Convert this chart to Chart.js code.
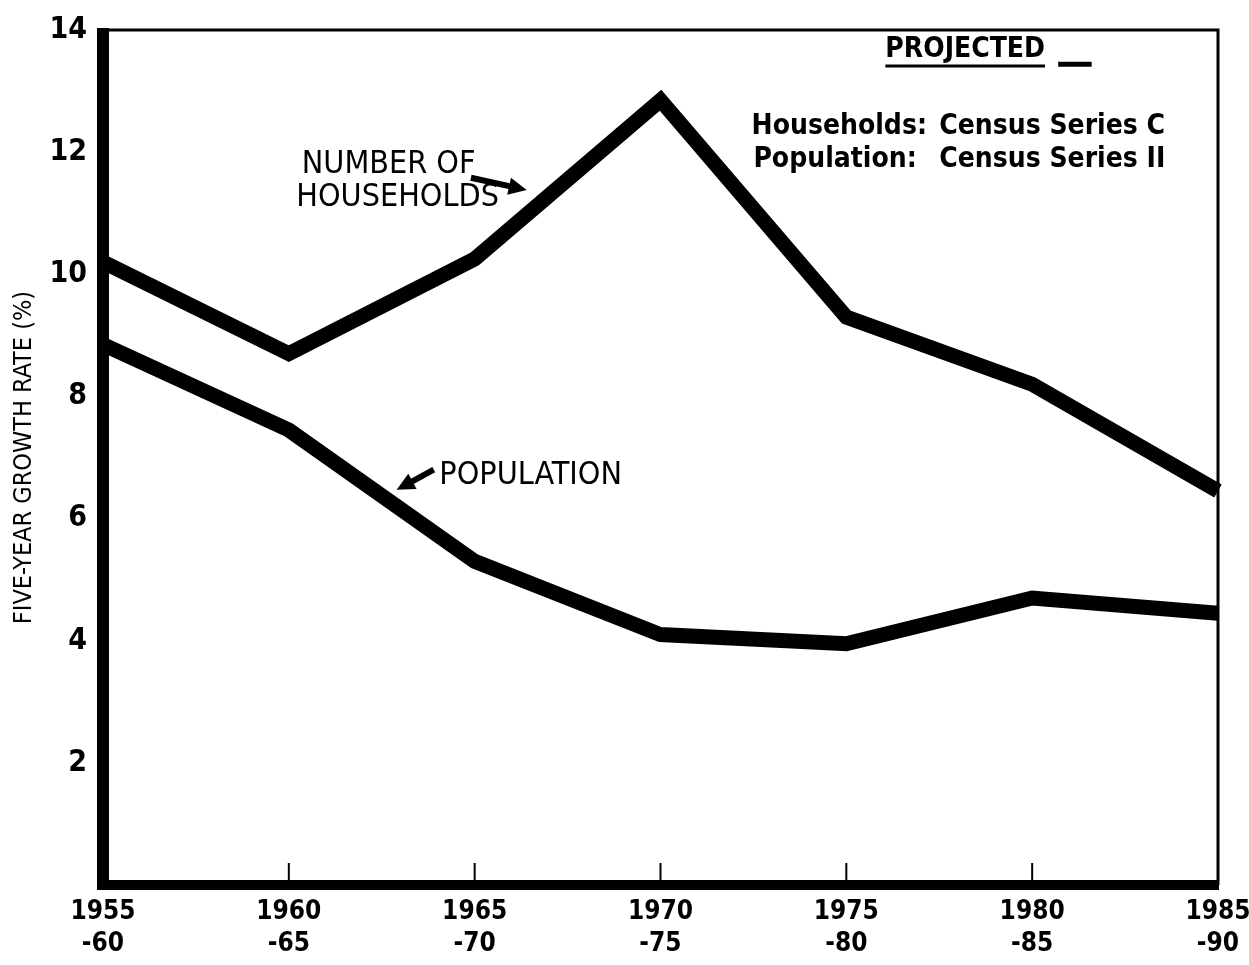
<!DOCTYPE html>
<html>
<head>
<meta charset="utf-8">
<script src="https://cdn.jsdelivr.net/npm/chart.js@4.4.1/dist/chart.umd.min.js"></script>
<style>
  html, body { margin: 0; background: #fff; }
  #wrap { width: 1249px; height: 965px; }
</style>
</head>
<body>
<div id="wrap"><canvas id="growthCanvas"></canvas></div>
<script>
var periodStart = ['1955', '1960', '1965', '1970', '1975', '1980', '1985'];
var periodEnd = ['-60', '-65', '-70', '-75', '-80', '-85', '-90'];
var households = [10.2, 8.7, 10.25, 12.85, 9.3, 8.2, 6.45];
var population = [8.85, 7.45, 5.3, 4.1, 3.95, 4.7, 4.45];
var yMax = 14;
var yStep = 2;

var FONT = '"Liberation Sans Narrow", "DejaVu Sans Condensed", "Roboto Condensed", sans-serif';

// frame, inner ticks and the hand-lettered notes
var frameAndNotes = {
  id: 'frameAndNotes',
  afterDatasetsDraw(chart) {
    const { ctx, chartArea: a, scales: { x, y } } = chart;
    const px = v => x.getPixelForValue(v);
    const py = v => y.getPixelForValue(v);
    ctx.save();
    ctx.strokeStyle = '#000';
    ctx.fillStyle = '#000';

    ctx.lineWidth = 3;
    ctx.beginPath();
    ctx.moveTo(a.left, a.top);
    ctx.lineTo(a.right, a.top);
    ctx.lineTo(a.right, a.bottom);
    ctx.stroke();

    ctx.lineWidth = 12;
    ctx.beginPath();
    ctx.moveTo(a.left, a.top - 2);
    ctx.lineTo(a.left, a.bottom + 5);
    ctx.stroke();
    ctx.lineWidth = 10;
    ctx.beginPath();
    ctx.moveTo(a.left - 6, a.bottom);
    ctx.lineTo(a.right + 1, a.bottom);
    ctx.stroke();

    ctx.lineWidth = 2;
    for (let i = 1; i < periodStart.length - 1; i++) {
      const tx = x.getPixelForTick(i);
      ctx.beginPath();
      ctx.moveTo(tx, a.bottom);
      ctx.lineTo(tx, a.bottom - 22);
      ctx.stroke();
    }

    ctx.textBaseline = 'middle';
    ctx.textAlign = 'left';
    ctx.font = '32px ' + FONT;
    ctx.fillText('NUMBER OF', px(1.07), py(11.79));
    ctx.fillText('HOUSEHOLDS', px(1.04), py(11.25));
    ctx.fillText('POPULATION', px(1.81), py(6.71));

    ctx.font = 'bold 28px ' + FONT;
    ctx.fillText('PROJECTED', px(4.21), py(13.67));
    const pw = ctx.measureText('PROJECTED').width;
    ctx.lineWidth = 3;
    ctx.beginPath();
    ctx.moveTo(px(4.21), py(13.41));
    ctx.lineTo(px(4.21) + pw, py(13.41));
    ctx.stroke();
    ctx.lineWidth = 5;
    ctx.beginPath();
    ctx.moveTo(px(5.14), py(13.44));
    ctx.lineTo(px(5.32), py(13.44));
    ctx.stroke();

    ctx.fillText('Households:', px(3.49), py(12.41));
    ctx.fillText('Census Series C', px(4.50), py(12.41));
    ctx.fillText('Population:', px(3.50), py(11.87));
    ctx.fillText('Census Series II', px(4.50), py(11.87));

    // arrows
    const arrow = (x1, y1, x2, y2) => {
      const ax = px(x1), ay = py(y1), bx = px(x2), by = py(y2);
      const ang = Math.atan2(by - ay, bx - ax);
      ctx.lineWidth = 6;
      ctx.beginPath();
      ctx.moveTo(ax, ay);
      ctx.lineTo(bx - 12 * Math.cos(ang), by - 12 * Math.sin(ang));
      ctx.stroke();
      ctx.beginPath();
      ctx.moveTo(bx, by);
      ctx.lineTo(bx - 20 * Math.cos(ang - 0.45), by - 20 * Math.sin(ang - 0.45));
      ctx.lineTo(bx - 20 * Math.cos(ang + 0.45), by - 20 * Math.sin(ang + 0.45));
      ctx.closePath();
      ctx.fill();
    };
    arrow(1.98, 11.58, 2.28, 11.38);
    arrow(1.78, 6.8, 1.58, 6.47);
    ctx.restore();
  }
};

new Chart(
  document.getElementById('growthCanvas'),
  {
    type: 'line',
    plugins: [frameAndNotes],
    data: {
      labels: periodStart.map((s, i) => [s, periodEnd[i]]),
      datasets: [
        {
          label: 'Number of households',
          data: households,
          borderColor: '#000',
          borderWidth: 15,
          borderJoinStyle: 'miter',
          pointRadius: 0,
          tension: 0,
        },
        {
          label: 'Population',
          data: population,
          borderColor: '#000',
          borderWidth: 15,
          borderJoinStyle: 'miter',
          pointRadius: 0,
          tension: 0,
        },
      ]
    },
    options: {
      responsive: true,
      maintainAspectRatio: false,
      animation: false,
      layout: { padding: { top: 30, right: 31, left: 0, bottom: 0 } },
      plugins: {
        legend: { display: false },
        tooltip: { enabled: false },
      },
      scales: {
        x: {
          offset: false,
          grid: { display: false, drawTicks: false },
          border: { display: false },
          ticks: {
            color: '#000',
            padding: 12,
            maxRotation: 0,
            autoSkip: false,
            font: { family: FONT, size: 26, weight: 'bold', lineHeight: 1.2 },
          },
          afterFit: scale => {
            scale.height = 80;
            scale.paddingLeft = 0;
            scale.paddingRight = 0;
          },
        },
        y: {
          min: 0,
          max: yMax,
          grid: { display: false, drawTicks: false },
          border: { display: false },
          ticks: {
            stepSize: yStep,
            color: '#000',
            padding: 16,
            font: { family: FONT, size: 30, weight: 'bold' },
            callback: value => value === 0 ? '' : value,
          },
          title: {
            display: true,
            text: 'FIVE-YEAR GROWTH RATE (%)',
            color: '#000',
            padding: { top: 9, bottom: 0 },
            font: { family: FONT, size: 25 },
          },
          afterFit: scale => {
            scale.width = 103;
            scale.paddingTop = 0;
            scale.paddingBottom = 0;
          },
        }
      }
    }
  }
);
</script>
</body>
</html>
